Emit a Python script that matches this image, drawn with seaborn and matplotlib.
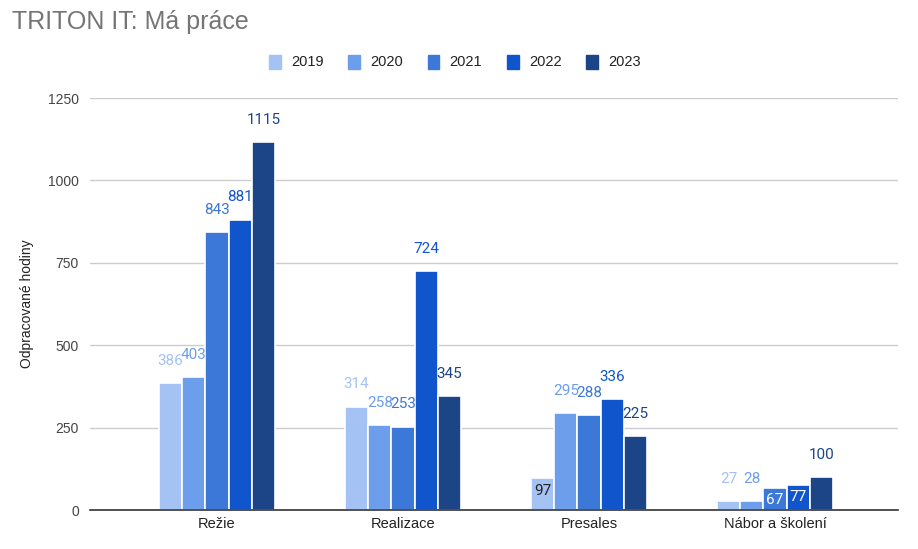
import matplotlib
matplotlib.use("Agg")
import matplotlib.pyplot as plt
import seaborn as sns
import pandas as pd
from matplotlib.patches import Patch

categories = ["Režie", "Realizace", "Presales", "Nábor a školení"]
years = ["2019", "2020", "2021", "2022", "2023"]
v2019 = [386, 314, 97, 27]
v2020 = [403, 258, 295, 28]
v2021 = [843, 253, 288, 67]
v2022 = [881, 724, 336, 77]
v2023 = [1115, 345, 225, 100]
series = [v2019, v2020, v2021, v2022, v2023]

colors = ["#a4c2f4", "#6d9eeb", "#3c78d8", "#1155cc", "#1c4587"]
# labels that Google drew inside the bar (category index, year index) -> text colour
inside = {(2, 0): "#222222", (3, 2): "white", (3, 3): "white"}

rows = []
for y, vals in zip(years, series):
    for c, v in zip(categories, vals):
        rows.append({"cat": c, "year": y, "hours": v})
df = pd.DataFrame(rows)

sns.set_theme(style="white")
plt.rcParams["font.family"] = ["Roboto", "DejaVu Sans"]
arial = ["Liberation Sans", "DejaVu Sans"]

fig = plt.figure(figsize=(9.18, 5.49), dpi=100)
ax = fig.add_axes([90 / 918, 39 / 549, 808 / 918, 412 / 549])

sns.barplot(data=df, x="cat", y="hours", hue="year", order=categories,
            hue_order=years, palette=colors, width=0.625, dodge=True,
            edgecolor="white", linewidth=1.2, saturation=1, ax=ax, legend=False)

for yi, cont in enumerate(ax.containers):
    for ci, bar in enumerate(cont):
        h = bar.get_height()
        x = bar.get_x() + bar.get_width() / 2
        if (ci, yi) in inside:
            ax.annotate(f"{int(h)}", (x, h), xytext=(0, -9), textcoords="offset points",
                        ha="center", va="center", fontsize=11, color=inside[(ci, yi)])
        else:
            ax.annotate(f"{int(h)}", (x, h), xytext=(0, 16), textcoords="offset points",
                        ha="center", va="center", fontsize=11, color=colors[yi])

ax.set_ylim(0, 1250)
ax.set_xlim(-0.683, 3.661)
ax.set_yticks([0, 250, 500, 750, 1000, 1250])
ax.yaxis.grid(True, color="#cccccc", linewidth=1)
ax.set_axisbelow(True)
for s in ["top", "right", "left"]:
    ax.spines[s].set_visible(False)
ax.spines["bottom"].set_color("#333333")
ax.spines["bottom"].set_linewidth(1.2)
ax.tick_params(axis="y", length=0, labelsize=10, labelcolor="#444444", pad=8)
ax.tick_params(axis="x", length=0, labelsize=10.5, labelcolor="#222222", pad=5)
for t in ax.get_yticklabels():
    t.set_family(arial)
for t in ax.get_xticklabels():
    t.set_family(arial)
ax.set_xlabel("")
ax.set_ylabel("Odpracované hodiny", fontsize=10, color="#222222", labelpad=10,
              family=arial)

fig.text(12 / 918, 1 - 22 / 549, "TRITON IT: Má práce", fontsize=18,
         color="#757575", ha="left", va="center", family=arial)

handles = [Patch(facecolor=c, edgecolor=c) for c in colors]
fig.legend(handles, years, loc="center", bbox_to_anchor=(455 / 918, 1 - 62 / 549),
           ncol=5, frameon=False, handlelength=0.8, handleheight=1.1,
           handletextpad=0.7, columnspacing=1.7, labelcolor="#222222",
           prop={"family": arial, "size": 10.5})

fig.savefig("out.png", dpi=100)
